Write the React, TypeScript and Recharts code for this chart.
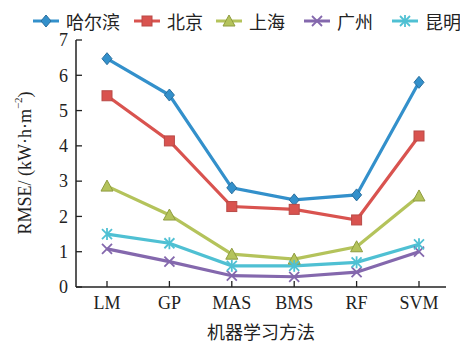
import React from 'react';
import {
  ComposedChart,
  Line,
  XAxis,
  YAxis
} from 'recharts';

const methods = ['LM', 'GP', 'MAS', 'BMS', 'RF', 'SVM'];
const harbin = [6.47, 5.44, 2.81, 2.47, 2.61, 5.8];
const beijing = [5.42, 4.14, 2.28, 2.2, 1.9, 4.28];
const shanghai = [2.86, 2.04, 0.93, 0.79, 1.14, 2.58];
const guangzhou = [1.08, 0.72, 0.32, 0.29, 0.42, 1.0];
const kunming = [1.5, 1.24, 0.6, 0.6, 0.7, 1.21];
const yTicks = [0, 1, 2, 3, 4, 5, 6, 7];

const data = methods.map((m, i) => ({
  name: m,
  harbin: harbin[i],
  beijing: beijing[i],
  shanghai: shanghai[i],
  guangzhou: guangzhou[i],
  kunming: kunming[i]
}));

const FONT = "'Liberation Serif', 'Noto Sans CJK SC', serif";

const seriesList = [
  { key: 'harbin', name: '哈尔滨', color: '#3390cb', shape: 'diamond' },
  { key: 'beijing', name: '北京', color: '#d9534f', shape: 'square' },
  { key: 'shanghai', name: '上海', color: '#b4c35b', shape: 'triangle' },
  { key: 'guangzhou', name: '广州', color: '#8468ad', shape: 'cross' },
  { key: 'kunming', name: '昆明', color: '#4fc0d3', shape: 'star' }
];

const Marker = ({ cx, cy, shape, color }: any) => {
  if (cx == null || cy == null) return null;
  if (shape === 'diamond') {
    return <path d={`M${cx},${cy - 6}L${cx + 5},${cy}L${cx},${cy + 6}L${cx - 5},${cy}Z`} fill={color} stroke="#2a6f9e" strokeWidth={1} />;
  }
  if (shape === 'square') {
    return <rect x={cx - 5} y={cy - 5} width={10} height={10} fill={color} stroke="#b94a47" strokeWidth={1} />;
  }
  if (shape === 'triangle') {
    return <path d={`M${cx},${cy - 6}L${cx + 6},${cy + 5}L${cx - 6},${cy + 5}Z`} fill={color} stroke="#8f9c40" strokeWidth={1} />;
  }
  if (shape === 'cross') {
    return (
      <g stroke={color} strokeWidth={1.8}>
        <line x1={cx - 5} y1={cy - 5} x2={cx + 5} y2={cy + 5} />
        <line x1={cx - 5} y1={cy + 5} x2={cx + 5} y2={cy - 5} />
      </g>
    );
  }
  return (
    <g stroke={color} strokeWidth={1.8}>
      <line x1={cx - 5} y1={cy - 5} x2={cx + 5} y2={cy + 5} />
      <line x1={cx - 5} y1={cy + 5} x2={cx + 5} y2={cy - 5} />
      <line x1={cx} y1={cy - 6} x2={cx} y2={cy + 6} />
    </g>
  );
};

// inward tick marks drawn together with the label
const XTick = ({ x, y, payload }: any) => (
  <g>
    <line x1={x} y1={y - 9} x2={x} y2={y - 15} stroke="#222" strokeWidth={1.3} />
    <text x={x} y={y} dy="0.71em" textAnchor="middle" fontSize={18} fill="#222" fontFamily={FONT}>
      {payload.value}
    </text>
  </g>
);

const YTick = ({ x, y, payload }: any) => (
  <g>
    <line x1={x + 8} y1={y} x2={x + 14} y2={y} stroke="#222" strokeWidth={1.3} />
    <text x={x} y={y} dy="0.35em" textAnchor="end" fontSize={18} fill="#222" fontFamily={FONT}>
      {payload.value}
    </text>
  </g>
);

const legendX = [33, 134, 216, 304, 392];

const LegendBox = () => (
  <div style={{ position: 'absolute', left: 0, top: 9, width: 460, height: 24, fontFamily: FONT, fontSize: 18, color: '#222' }}>
    {seriesList.map((s, i) => (
      <div key={s.key} style={{ position: 'absolute', left: legendX[i], top: 0, display: 'flex', alignItems: 'center', whiteSpace: 'nowrap', height: 24 }}>
        <svg width={26} height={14} style={{ marginRight: 7 }}>
          <line x1={0} y1={7} x2={26} y2={7} stroke={s.color} strokeWidth={3} />
          <Marker cx={13} cy={7} shape={s.shape} color={s.color} />
        </svg>
        <span>{s.name}</span>
      </div>
    ))}
  </div>
);

const YLabel = () => (
  <text
    x={25}
    y={163}
    transform="rotate(-90, 25, 163)"
    textAnchor="middle"
    dominantBaseline="central"
    fontFamily={FONT}
    fontSize={18}
    fill="#222"
  >
    RMSE/ (kW·h·m<tspan dy={-7} fontSize={11}>−2</tspan><tspan dy={7}>)</tspan>
  </text>
);

const App = () => {
  return (
    <div style={{ position: 'absolute', left: 0, top: 0, width: 460, height: 342, background: '#fff' }}>
      <ComposedChart width={460} height={342} data={data} margin={{ top: 40, right: 14, bottom: 0, left: 0 }}>
        <XAxis
          dataKey="name"
          xAxisId="main"
          scale="point"
          padding={{ left: 31, right: 27 }}
          height={55}
          tickSize={0}
          tickMargin={9}
          tick={<XTick />}
          tickLine={false}
          axisLine={{ stroke: '#222', strokeWidth: 1.5 }}
          interval={0}
          label={{ value: '机器学习方法', position: 'insideBottom', offset: 3, fontSize: 18, fill: '#222', fontFamily: FONT }}
        />
        <XAxis dataKey="name" xAxisId="top" orientation="top" height={0} tick={false} tickLine={false} axisLine={{ stroke: '#222', strokeWidth: 1.5 }} />
        <YAxis
          yAxisId="main"
          width={76}
          domain={[0, 7]}
          ticks={yTicks}
          tickSize={0}
          tickMargin={8}
          tick={<YTick />}
          tickLine={false}
          axisLine={{ stroke: '#222', strokeWidth: 1.5 }}
          label={<YLabel />}
        />
        <YAxis yAxisId="right" orientation="right" width={0} domain={[0, 7]} tick={false} tickLine={false} axisLine={{ stroke: '#222', strokeWidth: 1.5 }} />
        {seriesList.map((s) => (
          <Line
            key={s.key}
            xAxisId="main"
            yAxisId="main"
            dataKey={s.key}
            name={s.name}
            stroke={s.color}
            strokeWidth={3.2}
            isAnimationActive={false}
            dot={(p: any) => <Marker key={`${s.key}-${p.index}`} cx={p.cx} cy={p.cy} shape={s.shape} color={s.color} />}
            activeDot={false}
          />
        ))}
      </ComposedChart>
      <LegendBox />
    </div>
  );
};

export default App;
